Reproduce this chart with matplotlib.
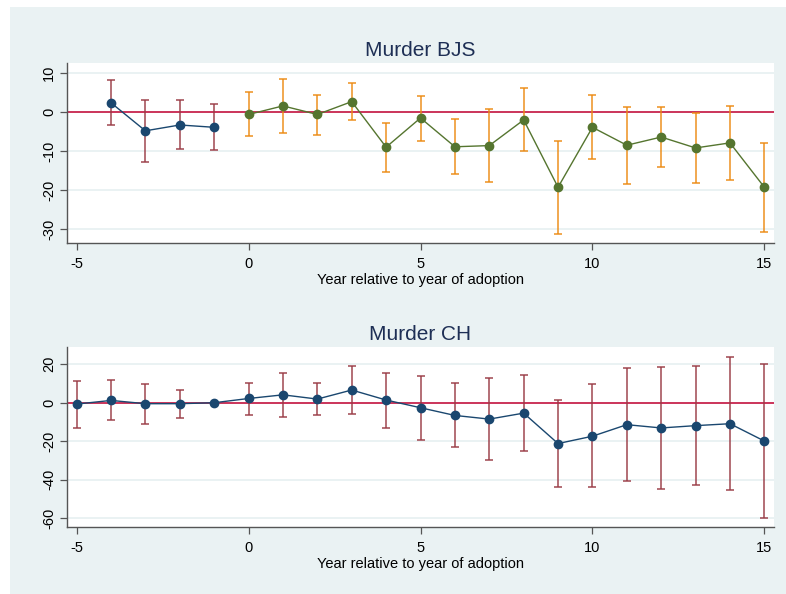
import numpy as np
import matplotlib.pyplot as plt
from matplotlib.patches import Rectangle

plt.rcParams['font.family'] = ['Liberation Sans', 'DejaVu Sans']
plt.rcParams['axes.unicode_minus'] = False

# Murder BJS: event-study coefficients with 95% CI
bjs_pre_years = [-4, -3, -2, -1]
bjs_pre_coef = [2.4, -4.8, -3.3, -3.9]
bjs_pre_hi = [8.3, 3.2, 3.2, 2.1]
bjs_pre_lo = [-3.4, -12.7, -9.6, -9.8]

bjs_post_years = list(range(0, 16))
bjs_post_coef = [-0.6, 1.6, -0.6, 2.7, -9.0, -1.5, -8.9, -8.6, -2.0, -19.3,
                 -3.9, -8.5, -6.4, -9.2, -7.9, -19.3]
bjs_post_hi = [5.1, 8.5, 4.5, 7.5, -2.7, 4.1, -1.8, 0.8, 6.2, -7.3,
               4.3, 1.3, 1.2, -0.3, 1.7, -7.9]
bjs_post_lo = [-6.2, -5.4, -5.8, -2.1, -15.3, -7.3, -16.0, -18.0, -9.9, -31.4,
               -12.1, -18.5, -14.0, -18.1, -17.5, -30.8]

# Murder CH: year -1 is the reference year (no interval)
ch_years = list(range(-5, 16))
ch_coef = [-0.7, 1.2, -0.5, -0.5, 0.0, 2.2, 4.1, 1.9, 6.6, 1.4, -2.6,
           -6.6, -8.5, -5.4, -21.2, -17.4, -11.4, -13.1, -11.9, -10.9, -19.9]
ch_hi = [11.2, 11.6, 9.8, 6.4, np.nan, 10.5, 15.7, 10.4, 19.0, 15.7, 14.0,
         10.4, 12.6, 14.3, 1.6, 9.5, 18.1, 18.8, 19.2, 23.8, 20.0]
ch_lo = [-13.1, -8.8, -10.9, -7.8, np.nan, -6.2, -7.4, -6.6, -5.7, -13.1, -19.2,
         -23.1, -29.5, -24.9, -43.7, -43.9, -40.8, -44.7, -42.8, -45.4, -59.8]

NAVY = '#1A476F'
MAROON = '#9A3B45'
GREEN = '#55752F'
ORANGE = '#EC8A12'
ZERO = '#C9264E'
BG = '#EAF2F3'

W, H = 786, 594
fig = plt.figure(figsize=(W / 100, H / 100), dpi=100, facecolor='white')
fig.patches.append(Rectangle((10 / W, 0), 1, 1 - 7 / H, transform=fig.transFigure,
                             facecolor=BG, edgecolor='none', zorder=-10))


def make_axes(top, bottom):
    ax = fig.add_axes([67 / W, 1 - bottom / H, (774 - 67) / W, (bottom - top) / H])
    ax.set_facecolor('white')
    for side in ('top', 'right'):
        ax.spines[side].set_visible(False)
    for side in ('left', 'bottom'):
        ax.spines[side].set_color('#555555')
        ax.spines[side].set_linewidth(1.0)
    ax.tick_params(axis='both', colors='#555555', labelcolor='black',
                   labelsize=10.5, length=5, width=0.9)
    ax.tick_params(axis='x', pad=5)
    ax.tick_params(axis='y', pad=3)
    ax.set_xlim(-5.28, 15.28)
    ax.set_xticks([-5, 0, 5, 10, 15])
    ax.grid(axis='y', color=BG, linewidth=1.4)
    ax.set_axisbelow(True)
    ax.set_xlabel('Year relative to year of adoption', fontsize=10.5, labelpad=1)
    return ax


def rotate_yticks(ax):
    for lbl in ax.get_yticklabels():
        lbl.set_rotation(90)
        lbl.set_va('center')


def draw_ci(ax, x, lo, hi, color):
    x = np.asarray(x, float)
    lo = np.asarray(lo, float)
    hi = np.asarray(hi, float)
    mid = (lo + hi) / 2
    ax.errorbar(x, mid, yerr=[mid - lo, hi - mid], fmt='none', ecolor=color,
                elinewidth=1.3, capsize=3.2, capthick=1.3, alpha=0.8, zorder=2)


# Top panel
ax1 = make_axes(62.7, 243.3)
ax1.set_ylim(-33.7, 12.7)
ax1.set_yticks([-30, -20, -10, 0, 10])
rotate_yticks(ax1)
ax1.axhline(0, color=ZERO, linewidth=1.3, zorder=1.5)
draw_ci(ax1, bjs_pre_years, bjs_pre_lo, bjs_pre_hi, MAROON)
draw_ci(ax1, bjs_post_years, bjs_post_lo, bjs_post_hi, ORANGE)
ax1.plot(bjs_pre_years, bjs_pre_coef, color=NAVY, linewidth=1.0, marker='o',
         markersize=6, zorder=3)
ax1.plot(bjs_post_years, bjs_post_coef, color=GREEN, linewidth=1.0, marker='o',
         markersize=6, zorder=3)
ax1.set_title('Murder BJS', fontsize=15, color='#1E2F55', pad=5)

# Bottom panel
ax2 = make_axes(346.7, 527.3)
ax2.set_ylim(-64.7, 29.1)
ax2.set_yticks([-60, -40, -20, 0, 20])
rotate_yticks(ax2)
ax2.axhline(0, color=ZERO, linewidth=1.3, zorder=1.5)
draw_ci(ax2, ch_years, ch_lo, ch_hi, MAROON)
ax2.plot(ch_years, ch_coef, color=NAVY, linewidth=1.0, marker='o',
         markersize=6, zorder=3)
ax2.set_title('Murder CH', fontsize=15, color='#1E2F55', pad=5)

fig.savefig('out.png', dpi=100, facecolor=fig.get_facecolor())
